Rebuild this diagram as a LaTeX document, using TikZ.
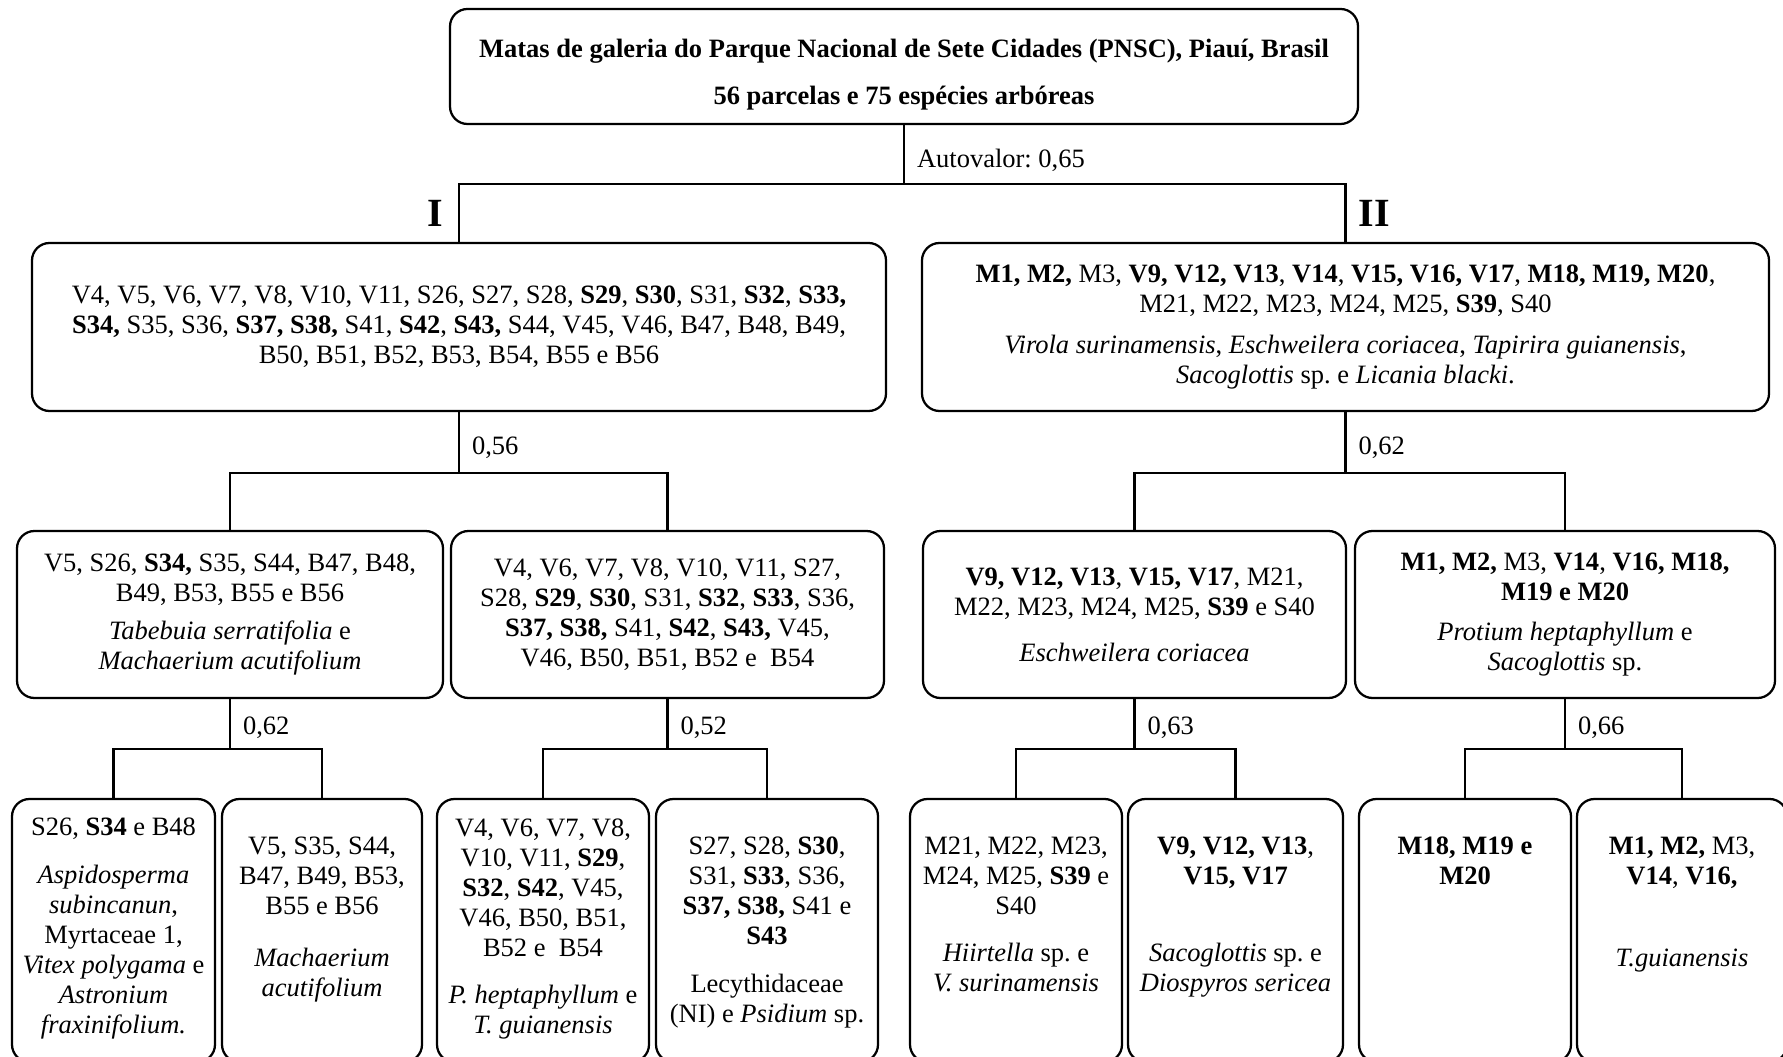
\documentclass[tikz,border=0pt]{standalone}
\usepackage{fontspec}
\setmainfont{Liberation Serif}
\frenchspacing
\usetikzlibrary{positioning, fit, calc}

\tikzset{
    grp/.style={draw, line width=0.9pt, rounded corners=7pt, inner sep=0pt},
    txt/.style={align=center, inner sep=0pt, font=\fontsize{10.6}{12}\selectfont},
    link/.style={line width=0.9pt},
    val/.style={inner sep=0pt, font=\fontsize{10.6}{12}\selectfont},
    grpname/.style={inner sep=0pt, font=\fontsize{16}{16}\selectfont\bfseries},
}

\begin{document}
\begin{tikzpicture}[x=0.4pt, y=-0.4pt]
    \path[use as bounding box, fill=white] (0,0) rectangle (1783,1057);

    % Caixa principal
    \node[grp, fit={(450,9) (1358,124)}] (pnsc) {};
    \node[txt, font=\fontsize{10.6}{12}\selectfont\bfseries] (pnsctxt) at (904,75)
        {Matas de galeria do Parque Nacional de Sete Cidades (PNSC), Piauí, Brasil\\[6.8pt]
         56 parcelas e 75 espécies arbóreas};

    % Grupos I e II
    \node[grp, fit={(32,243) (886,411)}] (gI) {};
    \node[grp, fit={(922,243) (1769,411)}] (gII) {};
    \node[txt] (gItxt) at (gI) {V4, V5, V6, V7, V8, V10, V11, S26, S27, S28, \textbf{S29}, \textbf{S30}, S31, \textbf{S32}, \textbf{S33,}\\
        \textbf{S34,} S35, S36, \textbf{S37, S38,} S41, \textbf{S42}, \textbf{S43,} S44, V45, V46, B47, B48, B49,\\
        B50, B51, B52, B53, B54, B55 e B56};
    \node[txt] (gIItxt) at (gII) {\textbf{M1, M2,} M3, \textbf{V9, V12, V13}, \textbf{V14}, \textbf{V15, V16, V17}, \textbf{M18, M19, M20},\\
        M21, M22, M23, M24, M25, \textbf{S39}, S40\\[4.5pt]
        \textit{Virola surinamensis}, \textit{Eschweilera coriacea}, \textit{Tapirira guianensis},\\
        \textit{Sacoglottis} sp. e \textit{Licania blacki}.};

    % Segunda divisao
    \node[grp, fit={(17,531) (443,698)}] (gIa) {};
    \node[grp, fit={(451,531) (884,698)}] (gIb) {};
    \node[grp, fit={(923,531) (1346,698)}] (gIIa) {};
    \node[grp, fit={(1355,531) (1775,698)}] (gIIb) {};
    \node[txt] (gIatxt) at (gIa) {V5, S26, \textbf{S34,} S35, S44, B47, B48,\\
        B49, B53, B55 e B56\\[3.5pt]
        \textit{Tabebuia serratifolia} e\\
        \textit{Machaerium acutifolium}};
    \node[txt] (gIbtxt) at (gIb) {V4, V6, V7, V8, V10, V11, S27,\\
        S28, \textbf{S29}, \textbf{S30}, S31, \textbf{S32}, \textbf{S33}, S36,\\
        \textbf{S37, S38,} S41, \textbf{S42}, \textbf{S43,} V45,\\
        V46, B50, B51, B52 e~ B54};
    \node[txt] (gIIatxt) at (gIIa) {\textbf{V9, V12, V13}, \textbf{V15, V17}, M21,\\
        M22, M23, M24, M25, \textbf{S39} e S40\\[6.5pt]
        \textit{Eschweilera coriacea}};
    \node[txt] (gIIbtxt) at (gIIb) {\textbf{M1, M2,} M3, \textbf{V14}, \textbf{V16, M18,}\\
        \textbf{M19 e M20}\\[4pt]
        \textit{Protium heptaphyllum} e\\
        \textit{Sacoglottis} sp.};

    % Terceira divisao
    \node[grp, fit={(12,799) (215,1062)}] (gIa1) {};
    \node[grp, fit={(222,799) (422,1062)}] (gIa2) {};
    \node[grp, fit={(437,799) (649,1062)}] (gIb1) {};
    \node[grp, fit={(656,799) (878,1062)}] (gIb2) {};
    \node[grp, fit={(910,799) (1122,1062)}] (gIIa1) {};
    \node[grp, fit={(1128,799) (1343,1062)}] (gIIa2) {};
    \node[grp, fit={(1359,799) (1571,1062)}] (gIIb1) {};
    \node[grp, fit={(1577,799) (1787,1062)}] (gIIb2) {};

    \node[txt, below=7.6pt of gIa1.north] (gIa1txt) {S26, \textbf{S34} e B48\\[7.5pt]
        \textit{Aspidosperma}\\ \textit{subincanun},\\ Myrtaceae 1,\\
        \textit{Vitex polygama} e\\ \textit{Astronium}\\ \textit{fraxinifolium.}};
    \node[txt, below=15.4pt of gIa2.north] (gIa2txt) {V5, S35, S44,\\ B47, B49, B53,\\ B55 e B56\\[9pt]
        \textit{Machaerium}\\ \textit{acutifolium}};
    \node[txt, below=8pt of gIb1.north] (gIb1txt) {V4, V6, V7, V8,\\ V10, V11, \textbf{S29},\\
        \textbf{S32}, \textbf{S42}, V45,\\ V46, B50, B51,\\ B52 e~ B54\\[7pt]
        \textit{P. heptaphyllum} e\\ \textit{T. guianensis}};
    \node[txt, below=15.4pt of gIb2.north] (gIb2txt) {S27, S28, \textbf{S30},\\ S31, \textbf{S33}, S36,\\
        \textbf{S37, S38,} S41 e\\ \textbf{S43}\\[7pt]
        Lecythidaceae\\ (NI) e \textit{Psidium} sp.};
    \node[txt, below=15.4pt of gIIa1.north] (gIIa1txt) {M21, M22, M23,\\ M24, M25, \textbf{S39} e\\ S40\\[7pt]
        \textit{Hiirtella} sp. e\\ \textit{V. surinamensis}};
    \node[txt, below=15.4pt of gIIa2.north] (gIIa2txt) {\textbf{V9, V12, V13},\\ \textbf{V15, V17}\\[19pt]
        \textit{Sacoglottis} sp. e\\ \textit{Diospyros sericea}};
    \node[txt, below=15.4pt of gIIb1.north] (gIIb1txt) {\textbf{M18, M19 e}\\ \textbf{M20}};
    \node[txt, below=15.4pt of gIIb2.north] (gIIb2txt) {\textbf{M1, M2,} M3,\\ \textbf{V14}, \textbf{V16,}\\[21pt]
        \textit{T.guianensis}};

    % Ligacoes
    \coordinate (f0) at (904,184);
    \draw[link] (pnsc.south) -- (f0) -| (gI.north);
    \draw[link] (f0) -| (gII.north);
    \path (pnsc.south) -- (f0) node[val, midway, right=5pt, yshift=-2.4pt] (av0) {Autovalor: 0,65};
    \path (gI.north) -- (f0 -| gI.north) node[grpname, midway, left=6pt] (nI) {I};
    \path (gII.north) -- (f0 -| gII.north) node[grpname, midway, right=5pt] (nII) {II};

    \path (gI.south) ++(0,61) coordinate (f1);
    \draw[link] (gI.south) -- (f1) -| (gIa.north);
    \draw[link] (f1) -| (gIb.north);
    \path (gI.south) -- (f1) node[val, midway, right=5pt, yshift=-2pt] (av1) {0,56};

    \path (gII.south) ++(0,61) coordinate (f2);
    \draw[link] (gII.south) -- (f2) -| (gIIa.north);
    \draw[link] (f2) -| (gIIb.north);
    \path (gII.south) -- (f2) node[val, midway, right=5pt, yshift=-2pt] (av2) {0,62};

    \path (gIa.south) ++(0,50) coordinate (f3);
    \draw[link] (gIa.south) -- (f3) -| (gIa1.north);
    \draw[link] (f3) -| (gIa2.north);
    \path (gIa.south) -- (f3) node[val, midway, right=5pt, yshift=-1.5pt] (av3) {0,62};

    \path (gIb.south) ++(0,50) coordinate (f4);
    \draw[link] (gIb.south) -- (f4) -| (gIb1.north);
    \draw[link] (f4) -| (gIb2.north);
    \path (gIb.south) -- (f4) node[val, midway, right=5pt, yshift=-1.5pt] (av4) {0,52};

    \path (gIIa.south) ++(0,50) coordinate (f5);
    \draw[link] (gIIa.south) -- (f5) -| (gIIa1.north);
    \draw[link] (f5) -| (gIIa2.north);
    \path (gIIa.south) -- (f5) node[val, midway, right=5pt, yshift=-1.5pt] (av5) {0,63};

    \path (gIIb.south) ++(0,50) coordinate (f6);
    \draw[link] (gIIb.south) -- (f6) -| (gIIb1.north);
    \draw[link] (f6) -| (gIIb2.north);
    \path (gIIb.south) -- (f6) node[val, midway, right=5pt, yshift=-1.5pt] (av6) {0,66};
\end{tikzpicture}
\end{document}
